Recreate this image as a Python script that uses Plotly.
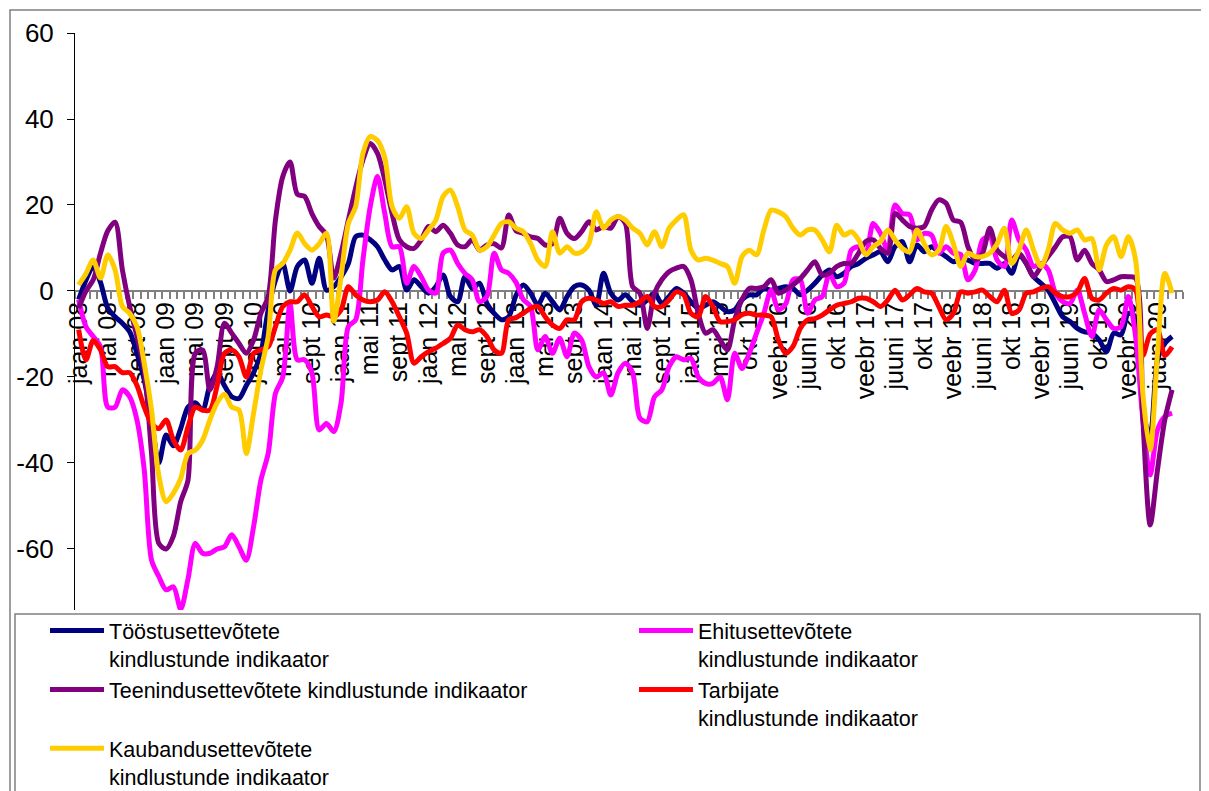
import plotly.graph_objects as go

# ---------------- data ----------------
MONTH_ABBR = ["jaan", "veebr", "märts", "apr", "mai", "juuni",
              "juuli", "aug", "sept", "okt", "nov", "dets"]
YEARS = list(range(2008, 2021))
MISSING_CATEGORY = "sept 15"      # month absent from the source category list
LAST_CATEGORY = "sept 20"

MONTHS = []
for y in YEARS:
    for m in MONTH_ABBR:
        name = f"{m} {y % 100:02d}"
        if name == "jaan 15":
            name = "jaan.15"
        if name == MISSING_CATEGORY:
            continue
        MONTHS.append(name)
        if name == LAST_CATEGORY:
            break
    if MONTHS[-1] == LAST_CATEGORY:
        break

TOOSTUS = [
    -2, 2.5, 5.7, 2, -4, -6, -7.5, -9.5, -14.5, -20.7,
    -30, -40, -33.5, -36, -32, -27, -26, -27.7, -22, -19,
    -22, -24.6, -25, -22, -19, -14.5, -4.4, 2.5, 6.4, 0,
    5.7, 7.2, 1.8, 7.6, 0.2, 1, 3.3, 6.4, 12.6, 13,
    11.9, 10.3, 7.2, 4.9, 5.7, 0.2, 2.6, 1, -0.5, 1,
    3.7, -1.3, -2.5, 3.3, 0.6, 1.8, -2.9, -5.2, -6.7, -6,
    -1, 1.4, -0.5, -3.3, -0.5, -2.5, -4.4, -1.3, 1, 1.4,
    0.2, -3.3, 4.1, -0.5, -2.1, -0.9, -2.5, -3.3, -2.1, -0.5,
    -2.9, -1.3, 0.6, -0.5, -2.5, -4, -3.3, -2.5, -3.6, -4.8,
    -4.4, -2, -0.9, -0.9, 0.6, 0.2, 0.6, 1, 0.6, -0.9,
    0.2, 1.8, 3.7, 4.9, 3.3, 4.1, 5.7, 6.4, 7.6, 8.4,
    9.1, 6.8, 10.3, 11.5, 6.8, 10.7, 9.1, 10.3, 9.1, 8,
    6.8, 7.5, 7.2, 6.4, 6.4, 6.4, 5.3, 6.4, 4.1, 8.4,
    6.4, 3.3, 1.8, 0.2, -2.9, -6, -7.1, -8.7, -9.5, -9.8,
    -11.4, -14.1, -9.8, -10.2, -5.2, -6, -28.4, -33.5, -16, -12.2,
    -10.6,
]

EHITUS = [
    -2, -8.3, -10.6, -13, -27, -27, -23, -24.6, -30, -41.6,
    -62.6, -66.4, -69.5, -68.8, -74, -67, -58.7, -61, -61, -60,
    -59.5, -56.7, -59.5, -62.6, -54.8, -44, -37.8, -23.8, -20, -3,
    -16, -16, -19, -32.3, -30.8, -32.7, -26, -8.3, -6.7, 7.2,
    19.6, 26.6, 18, 10.3, 10.3, 1.8, 5.7, 3.3, 0.2, -0.5,
    8.8, 9.5, 6.4, 4.1, 2.6, -2.5, -1.3, 8.8, 4.9, 4.1,
    2, -2, -3.6, -13.7, -10.6, -14.5, -11, -15.3, -9.8, -11.4,
    -17.6, -20, -19, -24.2, -19, -16.8, -19, -29.6, -30.4, -24.6,
    -23, -17.6, -15.3, -16, -15.7, -20, -21.5, -21.5, -20, -25.3,
    -14.5, -18, -14.5, -9.8, -5.2, 0.2, -4.4, -3, 2.6, 2.6,
    -5.2, -2.1, -1.3, 4.1, 1, 1.8, 9.5, 10.3, 8.8, 15.7,
    13.4, 9.5, 20, 18, 17.7, 11.9, 13.4, 13, 8.8, 10.3,
    8.8, 8.5, 2.6, 4.9, 11.9, 12.6, 7.2, 5.7, 16.5, 11.9,
    9.5, 5.7, 6.4, 4.9, -0.5, -2.5, -2.9, 0.2, -5.2, -10.6,
    -4.4, -6.7, -8.7, -8.3, -1.3, -10.6, -30, -42.8, -32.3, -29.2,
    -28.4,
]

TEENINDUS = [
    -4, 0, 2.6, 8.8, 14, 16, 4.9, -3.6, -10.6, -18.4,
    -37.8, -58.7, -60, -57, -49, -44, -14.5, -13.7, -23, -17.6,
    -7.5, -9.8, -12.2, -14.5, -11.4, -5.2, -1.3, 16.5, 26.6, 30,
    22.5, 22, 18, 15, 13, 3, 8.8, 16.5, 24, 30.5,
    34.3, 32, 25.8, 18, 11.9, 10.3, 9.9, 11.9, 15, 13.8,
    15.3, 13.4, 10.7, 10.3, 11.9, 9.5, 10.7, 11, 10, 17.7,
    14, 13.4, 12.6, 12.2, 10.7, 11, 16.9, 13.4, 12.2, 13.8,
    16.1, 14.2, 15, 14.6, 17.3, 15.7, 1, -0.5, -8.7, -0.5,
    2.6, 4.5, 5.3, 5.7, 2.6, -5.2, -9.8, -9, -11.4, -13.7,
    -6.7, -2, 0.6, 0.6, 1, 2.6, -0.5, 0.2, 1.4, 2.9,
    4.9, 6.8, 3.7, 4.1, 5.7, 6.4, 6.4, 8.8, 11.5, 11.9,
    9.9, 8.8, 18, 16.5, 15, 14.6, 15, 18.8, 21.2, 20.4,
    16.5, 16, 10.3, 7.2, 8.8, 14.6, 9.5, 8, 7.2, 8.8,
    6.4, 3.3, 5.7, 8, 10.3, 12.6, 12.6, 7.2, 9.5, 6.4,
    4.9, 2.2, 2.6, 3.3, 3.3, 3, -30, -54.4, -41.6, -30,
    -23,
]

TARBIJATE = [
    -9, -16, -11.5, -13.7, -17.6, -17.6, -19, -19, -22, -27,
    -30.8, -32, -30, -34.7, -37, -31.6, -27, -27.7, -27.7, -22,
    -14.5, -13.7, -15.3, -20, -14.5, -13.7, -13, -8.3, -3.6, -2.5,
    -2.5, -0.9, -3.6, -6, -5.6, -6, -4.4, 1, -0.9, -2.1,
    -2.5, -2.1, -0.2, -2.5, -6, -9.8, -16.8, -15.3, -14.1, -13.3,
    -12.2, -11, -7.9, -9, -9.5, -9, -10.6, -13.7, -14.5, -6.7,
    -6.2, -5.2, -4, -3.6, -6, -7.9, -8.7, -6.7, -6.7, -2.5,
    -1.7, -2.1, -2.9, -2.5, -3.6, -3.3, -3.3, -2.5, -1.3, -3.6,
    -3.6, -2.1, -0.2, -0.9, -5.2, -6, -1.3, -3.6, -7.1, -7.1,
    -6.7, -5.5, -5.2, -5.6, -5.6, -6, -11.4, -14.5, -12.9, -8.7,
    -6.7, -6.4, -5.6, -4.4, -3.3, -2.9, -2.5, -1.7, -1.7, -2.5,
    -3.6, -2.1, 0.2, -2.1, -0.9, 0.6, -0.2, -0.5, -3.6, -6.7,
    -5.2, -0.2, -0.5, -0.2, 0.2, -1.3, -2.5, 0.2, -5.2, -4.4,
    -0.5, -0.2, 0.6, 1, -0.5, -1.3, -1.3, -0.2, 2.9, -1.7,
    -2.1, -0.5, 0.6, 0.2, 1, 0.2, -15, -10, -9, -15,
    -13,
]

KAUBANDUS = [
    1.4, 4, 7.2, 3, 8.4, 4.9, -3.6, -5.2, -8.3, -16.8,
    -27.7, -43, -49, -47, -43.6, -37.8, -37, -34.7, -30, -26,
    -24, -27, -27.7, -37.8, -28.4, -18.4, -10.6, 4.9, 6.4, 9.5,
    13.5, 11, 9.5, 11, 13.4, -7, 3.3, 15.7, 19.6, 32,
    35.9, 35, 31, 19.6, 16.9, 19.6, 13.4, 12.2, 14.2, 16.5,
    22, 23.5, 19.6, 14.2, 13, 9.5, 10.3, 13, 15.7, 16.1,
    14.6, 13.8, 11, 7.2, 5.7, 13.8, 8.8, 10.3, 8.8, 9.1,
    11, 18.4, 14.6, 16.5, 17.3, 16.5, 14.6, 13.4, 10.7, 13.8,
    10.3, 14.6, 16.5, 17.7, 9.5, 7.2, 7.6, 7.2, 6.4, 5.7,
    1.8, 8, 9.5, 8.4, 14.2, 18.8, 18.4, 17.3, 14.6, 13,
    14.2, 14.2, 11.9, 9.1, 15.3, 13, 13.8, 11.9, 8.4, 10.3,
    11.5, 14.2, 11.9, 9.9, 9.1, 14.2, 11, 8.4, 9.5, 15,
    11, 5.7, 8.8, 8, 8, 8.8, 11, 14.6, 6.4, 9.5,
    14.2, 9.5, 5.7, 9.5, 15.7, 14.2, 13.4, 14.2, 11.9, 12.2,
    4.9, 10.7, 12.6, 8, 12.6, 7.2, -24, -37, -14.5, 4.1,
    -0.5,
]

SERIES = [
    ("Tööstusettevõtete<br>kindlustunde indikaator", TOOSTUS, "#000080"),
    ("Ehitusettevõtete<br>kindlustunde indikaator", EHITUS, "#FF00FF"),
    ("Teenindusettevõtete kindlustunde indikaator", TEENINDUS, "#800080"),
    ("Tarbijate<br>kindlustunde indikaator", TARBIJATE, "#FF0000"),
    ("Kaubandusettevõtete<br>kindlustunde indikaator", KAUBANDUS, "#FFCC00"),
]

Y_TICKS = [60, 40, 20, 0, -20, -40, -60]
Y_TICK_TEXT = ["60", "40", "20", "0", "-20", "-40", "-60"]
Y_MIN, Y_MAX = -74.19, 60
LABEL_STEP = 4

# ---------------- layout geometry (page pixels; page body has 8px margin) ----------------
FONT = "Liberation Sans, Arial, sans-serif"
OFF = 8
W, H = 1209 - OFF, 791 - OFF
PLOT_L, PLOT_R, PLOT_T, PLOT_B = 75, 1183, 33, 610
ML, MR = PLOT_L - OFF, (OFF + W) - PLOT_R
MT, MB = PLOT_T - OFF, (OFF + H) - PLOT_B
PW, PH = PLOT_R - PLOT_L, PLOT_B - PLOT_T


def px_x(p):
    return (p - PLOT_L) / PW


def px_y(p):
    return (PLOT_B - p) / PH


fig = go.Figure()
for name, vals, col in SERIES:
    fig.add_trace(go.Scatter(
        x=MONTHS[:len(vals)], y=vals, name=name, mode="lines",
        line=dict(color=col, width=5, shape="spline", smoothing=0.8),
        hoverinfo="skip",
    ))

ticktext = [m if i % LABEL_STEP == 0 else "" for i, m in enumerate(MONTHS)]
zero_pos = (0 - Y_MIN) / (Y_MAX - Y_MIN)

fig.update_layout(
    width=W, height=H,
    margin=dict(l=ML, r=MR, t=MT, b=MB, autoexpand=False),
    paper_bgcolor="white", plot_bgcolor="white",
    font=dict(family=FONT, size=24, color="black"),
    showlegend=True,
    xaxis=dict(
        type="category", categoryorder="array", categoryarray=MONTHS,
        range=[-0.5, len(MONTHS) - 0.5],
        anchor="free", position=zero_pos,
        showline=True, linecolor="#808080", linewidth=2,
        ticks="outside", ticklen=7, tickwidth=1.5, tickcolor="#808080",
        tickson="boundaries",
        tickmode="array", tickvals=MONTHS, ticktext=ticktext,
        tickangle=-90, tickfont=dict(size=25, family=FONT),
        showgrid=False, zeroline=False, layer="below traces",
    ),
    yaxis=dict(
        range=[Y_MIN, Y_MAX], tickmode="array", tickvals=Y_TICKS,
        ticktext=Y_TICK_TEXT,
        showline=True, linecolor="black", linewidth=1,
        ticks="outside", ticklen=7, tickcolor="black",
        ticklabelstandoff=8,
        tickfont=dict(size=26, family=FONT),
        showgrid=False, zeroline=False,
    ),
    legend=dict(
        orientation="h", x=px_x(45), xanchor="left", y=0, yanchor="top",
        bgcolor="rgba(0,0,0,0)", borderwidth=0,
        font=dict(size=21.5, family=FONT, color="black"),
        itemwidth=54, entrywidth=520, valign="top",
        traceorder="normal", tracegroupgap=0,
    ),
    shapes=[
        dict(type="rect", xref="paper", yref="paper",
             x0=px_x(10), x1=px_x(1205), y0=px_y(830), y1=px_y(10),
             line=dict(color="#808080", width=1.5),
             fillcolor="rgba(0,0,0,0)", layer="below"),
        dict(type="rect", xref="paper", yref="paper",
             x0=px_x(15), x1=px_x(1200), y0=px_y(830), y1=px_y(614),
             line=dict(color="#808080", width=1.5),
             fillcolor="white", layer="above"),
    ],
)

fig.write_html("out.html")
